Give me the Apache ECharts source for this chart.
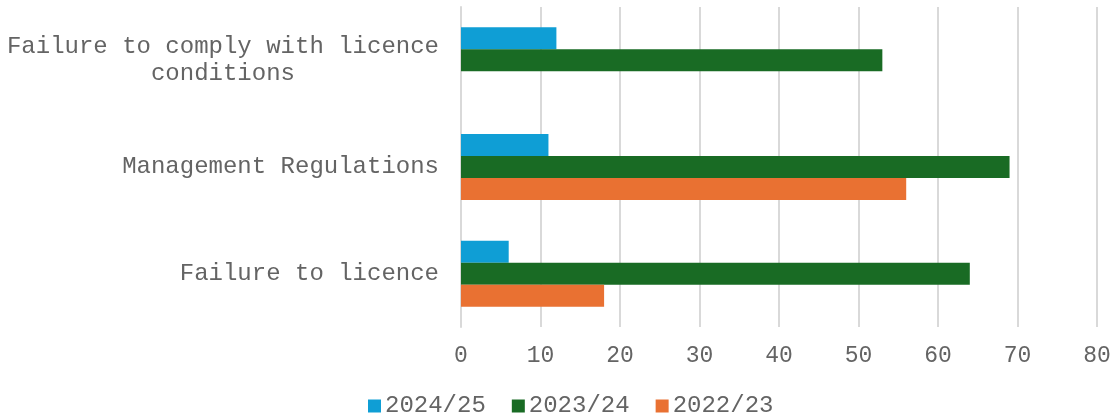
<!DOCTYPE html>
<html>
<head>
<meta charset="utf-8">
<script src="https://cdn.jsdelivr.net/npm/echarts@6/dist/echarts.min.js"></script>
<style>
html,body{margin:0;padding:0;background:#fff;}
#chart{width:1118px;height:419px;}
</style>
</head>
<body>
<div id="chart"></div>
<script>
const categories = ['Failure to comply with licence conditions', 'Management Regulations', 'Failure to licence'];
const seriesNames = ['2024/25', '2023/24', '2022/23'];
const values2024_25 = [12, 11, 6];
const values2023_24 = [53, 69, 64];
const values2022_23 = [null, 56, 18];
const xTicks = [0, 10, 20, 30, 40, 50, 60, 70, 80];
const colors = ['#0F9ED5', '#196B24', '#E97132'];

const FONT = '"Liberation Mono", "Courier New", monospace';
const TEXT = '#646464';

const chart = echarts.init(document.getElementById('chart'));
const dataSets = [values2024_25, values2023_24, values2022_23];

chart.setOption({
  animation: false,
  grid: { left: 461, right: 21, top: 7, bottom: 92, containLabel: false },
  legend: {
    top: 394,
    left: 368,
    padding: 0,
    data: seriesNames,
    icon: 'rect',
    itemWidth: 13,
    itemHeight: 13,
    itemGap: 26,
    textStyle: { fontFamily: FONT, fontSize: 24, color: TEXT, padding: [0, 0, 0, -1] }
  },
  xAxis: {
    type: 'value',
    min: xTicks[0],
    max: xTicks[xTicks.length - 1],
    interval: 10,
    axisLine: { show: false },
    axisTick: { show: false },
    splitLine: { show: true, lineStyle: { color: '#D9D9D9', width: 2 } },
    axisLabel: { fontFamily: FONT, fontSize: 23, color: TEXT, margin: 17 }
  },
  yAxis: {
    type: 'category',
    inverse: true,
    data: categories,
    axisLine: { show: true, lineStyle: { color: '#D9D9D9', width: 2 } },
    axisTick: { show: false },
    axisLabel: {
      margin: 22,
      fontFamily: FONT, fontSize: 24, color: TEXT,
      formatter: function (v) {
        if (v === categories[0]) {
          return '{c|Failure to comply with licence}\n{c|conditions}';
        }
        return '{r|' + v + '}';
      },
      rich: {
        c: { fontFamily: FONT, fontSize: 24, color: TEXT, align: 'center', lineHeight: 27 },
        r: { fontFamily: FONT, fontSize: 24, color: TEXT }
      }
    }
  },
  series: seriesNames.map((name, i) => ({
    name: name,
    type: 'bar',
    data: dataSets[i],
    barWidth: 22,
    barGap: '0%',
    itemStyle: { color: colors[i] }
  }))
});
</script>
</body>
</html>
